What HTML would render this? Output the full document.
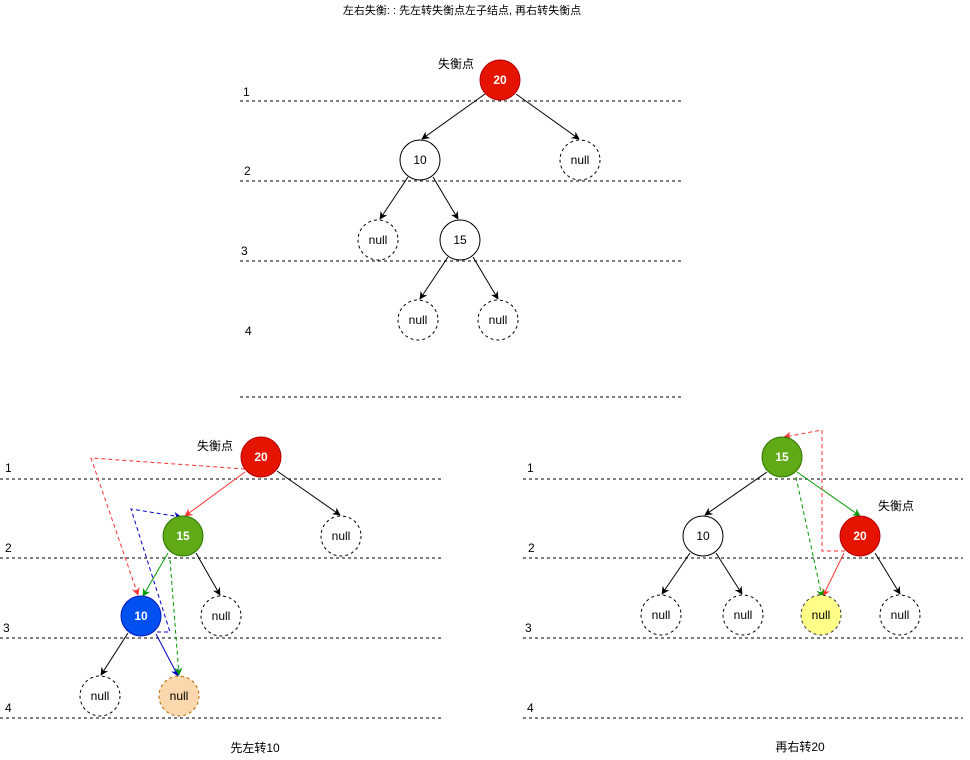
<!DOCTYPE html>
<html><head><meta charset="utf-8"><style>
html,body{margin:0;padding:0;background:#fff;}
svg{display:block;font-family:"Liberation Sans","Noto Sans CJK SC",sans-serif;}
</style></head><body>
<svg width="970" height="760" viewBox="0 0 970 760" xmlns="http://www.w3.org/2000/svg">
<defs>
<marker id="ak" viewBox="0 0 10 10" refX="9" refY="5" markerWidth="8" markerHeight="8" orient="auto" markerUnits="userSpaceOnUse"><path d="M0,0 L10,5 L0,10 L3,5 z" fill="#000"/></marker>
<marker id="ar" viewBox="0 0 10 10" refX="9" refY="5" markerWidth="8" markerHeight="8" orient="auto" markerUnits="userSpaceOnUse"><path d="M0,0 L10,5 L0,10 L3,5 z" fill="#ff3333"/></marker>
<marker id="ag" viewBox="0 0 10 10" refX="9" refY="5" markerWidth="8" markerHeight="8" orient="auto" markerUnits="userSpaceOnUse"><path d="M0,0 L10,5 L0,10 L3,5 z" fill="#009900"/></marker>
<marker id="ab" viewBox="0 0 10 10" refX="9" refY="5" markerWidth="8" markerHeight="8" orient="auto" markerUnits="userSpaceOnUse"><path d="M0,0 L10,5 L0,10 L3,5 z" fill="#0000cc"/></marker>
</defs>
<g font-size="12" fill="#000">
<text x="462" y="14" text-anchor="middle" font-size="11">左右失衡: : 先左转失衡点左子结点, 再右转失衡点</text>
</g>
<g stroke="#333" stroke-width="1.2" stroke-dasharray="3,3">
<line x1="240" y1="101" x2="683" y2="101"/><line x1="240" y1="181" x2="683" y2="181"/>
<line x1="240" y1="261" x2="683" y2="261"/><line x1="240" y1="397" x2="683" y2="397"/>
<line x1="0" y1="479" x2="443" y2="479"/><line x1="0" y1="558" x2="443" y2="558"/>
<line x1="0" y1="638" x2="443" y2="638"/><line x1="0" y1="718" x2="443" y2="718"/>
<line x1="523" y1="479" x2="963" y2="479"/><line x1="523" y1="558" x2="963" y2="558"/>
<line x1="523" y1="638" x2="963" y2="638"/><line x1="523" y1="718" x2="963" y2="718"/>
</g>
<g font-size="12" fill="#000">
<text x="243" y="96">1</text><text x="244" y="175">2</text><text x="241" y="255">3</text><text x="245" y="335">4</text>
<text x="5" y="472">1</text><text x="5" y="552">2</text><text x="3" y="632">3</text><text x="5" y="712">4</text>
<text x="527" y="472">1</text><text x="528" y="552">2</text><text x="525" y="632">3</text><text x="527" y="712">4</text>
<text x="456" y="68" text-anchor="middle">失衡点</text>
<text x="215" y="450" text-anchor="middle">失衡点</text>
<text x="896" y="510" text-anchor="middle">失衡点</text>
<text x="255" y="752" text-anchor="middle">先左转10</text>
<text x="800" y="751" text-anchor="middle">再右转20</text>
</g>
<g stroke="#000" stroke-width="1" fill="none" marker-end="url(#ak)">
<line x1="485" y1="94" x2="422" y2="139"/><line x1="516" y1="94" x2="579" y2="139"/>
<line x1="408" y1="177" x2="380" y2="219"/><line x1="433" y1="177" x2="458" y2="219"/>
<line x1="448" y1="257" x2="420" y2="299"/><line x1="473" y1="257" x2="498" y2="299"/>
<line x1="277" y1="471" x2="340" y2="515"/>
<line x1="196" y1="553" x2="220" y2="595"/>
<line x1="128" y1="633" x2="101" y2="675"/>
<line x1="767" y1="472" x2="705" y2="515"/>
<line x1="690" y1="553" x2="662" y2="594"/><line x1="716" y1="553" x2="742" y2="594"/>
<line x1="875" y1="553" x2="900" y2="594"/>
</g>
<line x1="245" y1="472" x2="185" y2="516" stroke="#ff3333" marker-end="url(#ar)"/>
<line x1="168" y1="553" x2="143" y2="596" stroke="#009900" marker-end="url(#ag)"/>
<line x1="156" y1="634" x2="178" y2="676" stroke="#0000cc" marker-end="url(#ab)"/>
<polyline points="245,469 91,458 138,595" fill="none" stroke="#ff3333" stroke-dasharray="4,3" marker-end="url(#ar)"/>
<polyline points="157,632 170,632 131,509 181,517" fill="none" stroke="#0000cc" stroke-dasharray="4,3" marker-end="url(#ab)"/>
<line x1="170" y1="560" x2="179" y2="675" stroke="#009900" stroke-dasharray="4,3" marker-end="url(#ag)"/>
<line x1="797" y1="472" x2="860" y2="516" stroke="#009900" marker-end="url(#ag)"/>
<line x1="844" y1="553" x2="823" y2="596" stroke="#ff3333" marker-end="url(#ar)"/>
<polyline points="845,551 822,551 822,430 784,437" fill="none" stroke="#ff3333" stroke-dasharray="4,3" marker-end="url(#ar)"/>
<line x1="796" y1="477" x2="822" y2="597" stroke="#009900" stroke-dasharray="4,3" marker-end="url(#ag)"/>
<g stroke-width="1">
<circle cx="500" cy="80" r="20" fill="#e51400" stroke="#b20000"/>
<circle cx="420" cy="160" r="20" fill="#fff" stroke="#000"/>
<circle cx="580" cy="160" r="20" fill="#fff" stroke="#000" stroke-dasharray="3,3"/>
<circle cx="378" cy="240" r="20" fill="#fff" stroke="#000" stroke-dasharray="3,3"/>
<circle cx="460" cy="240" r="20" fill="#fff" stroke="#000"/>
<circle cx="418" cy="320" r="20" fill="#fff" stroke="#000" stroke-dasharray="3,3"/>
<circle cx="498" cy="320" r="20" fill="#fff" stroke="#000" stroke-dasharray="3,3"/>
<circle cx="261" cy="457" r="20" fill="#e51400" stroke="#b20000"/>
<circle cx="183" cy="536" r="20" fill="#60a917" stroke="#2d7600"/>
<circle cx="341" cy="536" r="20" fill="#fff" stroke="#000" stroke-dasharray="3,3"/>
<circle cx="141" cy="616" r="20" fill="#0050ef" stroke="#001dbc"/>
<circle cx="221" cy="616" r="20" fill="#fff" stroke="#000" stroke-dasharray="3,3"/>
<circle cx="100" cy="696" r="20" fill="#fff" stroke="#000" stroke-dasharray="3,3"/>
<circle cx="179" cy="696" r="20" fill="#fad7ac" stroke="#b46504" stroke-dasharray="3,3"/>
<circle cx="782" cy="457" r="20" fill="#60a917" stroke="#2d7600"/>
<circle cx="703" cy="536" r="20" fill="#fff" stroke="#000"/>
<circle cx="860" cy="536" r="20" fill="#e51400" stroke="#b20000"/>
<circle cx="661" cy="615" r="20" fill="#fff" stroke="#000" stroke-dasharray="3,3"/>
<circle cx="743" cy="615" r="20" fill="#fff" stroke="#000" stroke-dasharray="3,3"/>
<circle cx="821" cy="615" r="20" fill="#ffff88" stroke="#36393d" stroke-dasharray="3,3"/>
<circle cx="900" cy="615" r="20" fill="#fff" stroke="#000" stroke-dasharray="3,3"/>
</g>
<g font-size="12" text-anchor="middle">
<text x="500" y="84" fill="#fff" font-weight="bold">20</text>
<text x="420" y="164">10</text><text x="580" y="164">null</text>
<text x="378" y="244">null</text><text x="460" y="244">15</text>
<text x="418" y="324">null</text><text x="498" y="324">null</text>
<text x="261" y="461" fill="#fff" font-weight="bold">20</text>
<text x="183" y="540" fill="#fff" font-weight="bold">15</text>
<text x="341" y="540">null</text>
<text x="141" y="620" fill="#fff" font-weight="bold">10</text>
<text x="221" y="620">null</text>
<text x="100" y="700">null</text><text x="179" y="700">null</text>
<text x="782" y="461" fill="#fff" font-weight="bold">15</text>
<text x="703" y="540">10</text>
<text x="860" y="540" fill="#fff" font-weight="bold">20</text>
<text x="661" y="619">null</text><text x="743" y="619">null</text>
<text x="821" y="619">null</text><text x="900" y="619">null</text>
</g>
</svg>
</body></html>
